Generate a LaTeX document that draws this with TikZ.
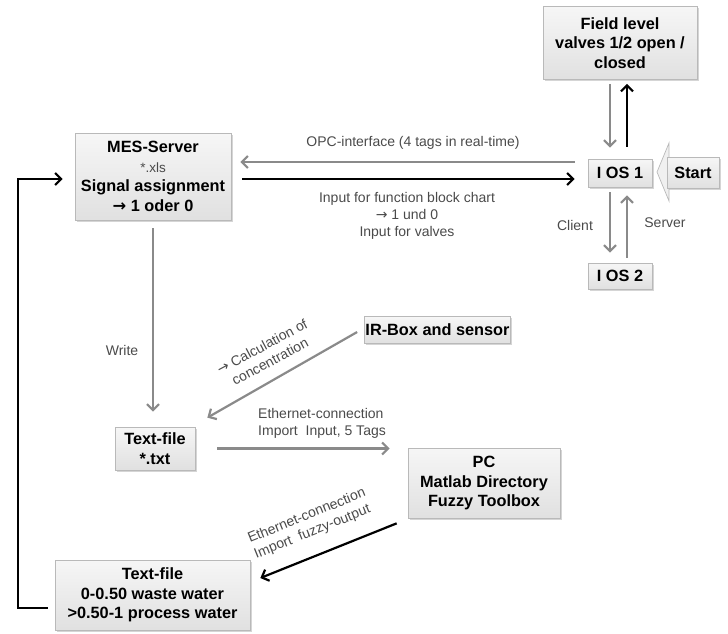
\documentclass[tikz,border=0pt]{standalone}
\usepackage{fontspec}
\setmainfont{Liberation Sans}
\newfontfamily\symfont{DejaVu Sans}
\usetikzlibrary{arrows.meta,shadows,calc}
\definecolor{linegray}{HTML}{8A8A8A}
\definecolor{labelgray}{HTML}{4A4A4A}
\newcommand{\rarr}{{\symfont\textrightarrow}}

\begin{document}
\begin{tikzpicture}[x=1pt,y=-1pt,
  box/.style={draw=gray!55, line width=0.7pt, top color=gray!7, bottom color=gray!24,
    drop shadow={shadow xshift=1.8pt, shadow yshift=-1.8pt, fill=gray!55, opacity=0.6},
    font=\fontsize{16.3}{19.5}\selectfont\bfseries, align=center, inner sep=1pt},
  lbl/.style={text=labelgray, font=\fontsize{14}{17}\selectfont, inner sep=1pt},
  garrow/.style={draw=linegray, line width=2.2pt, -{Straight Barb[length=6pt,width=12pt]}},
  barrow/.style={draw=black, line width=2.2pt, -{Straight Barb[length=6pt,width=12pt]}}]

\useasboundingbox (0,0) rectangle (728,633);

% boxes
\node[box, minimum width=154pt, minimum height=73pt] (field) at (620,43)
  {Field level\\valves 1/2 open /\\closed};
\node[box, minimum width=156pt, minimum height=87pt] (mes) at (153,176.5)
  {MES-Server\\{\mdseries\fontsize{13.5}{19.5}\selectfont\color{labelgray}*.xls}\\Signal assignment\\\rarr\ 1 oder 0};
\node[box, minimum width=64pt, minimum height=28pt] (ios1) at (620,173) {I OS 1};
\node[box, minimum width=64pt, minimum height=26pt] (ios2) at (620,276) {I OS 2};

% hollow arrowhead feeding the start signal into I OS 1
\filldraw[draw=gray!55, fill=gray!12, line width=0.7pt]
  (657,172) -- (669,143) -- (669,201) -- cycle;
\node[box, minimum width=52pt, minimum height=31pt] (start) at (693,172.5) {Start};

\node[box, minimum width=141pt, minimum height=27pt] (ir) at (437.5,330) {IR-Box and sensor};
\node[box, minimum width=80pt, minimum height=43pt] (txt) at (155,448.5) {Text-file\\*.txt};
\node[box, minimum width=152pt, minimum height=70pt] (pc) at (484,483)
  {PC\\Matlab Directory\\Fuzzy Toolbox};
\node[box, minimum width=195pt, minimum height=70pt] (txtout) at (152.5,595)
  {Text-file\\0-0.50 waste water\\>0.50-1 process water};

% field level <-> I OS 1
\draw[garrow] ($(field.south)+(-10,4)$) -- ($(ios1.north)+(-10,-11)$);
\draw[barrow] ($(ios1.north)+(7,-12)$) -- ($(field.south)+(7,4)$);

% I OS 1 <-> I OS 2
\draw[garrow] ($(ios1.south)+(-10,5)$) -- ($(ios2.north)+(-10,-10)$);
\draw[garrow] ($(ios2.north)+(7,-5)$) -- ($(ios1.south)+(7,8)$);
\node[lbl] (client) at (575,225) {Client};
\node[lbl] (server) at (665,223) {Server};

% OPC link between MES server and I OS 1
\draw[garrow] ($(ios1.west)+(-13,-11)$) -- ($(mes.east)+(9,-14.5)$);
\draw[barrow] ($(mes.east)+(11,2.5)$) -- ($(ios1.west)+(-13,6)$);
\node[lbl] (opc) at (413,143) {OPC-interface (4 tags in real-time)};
\node[lbl, align=center] (fbc) at (407,216)
  {Input for function block chart\\\rarr\ 1 und 0\\Input for valves};

% MES server writes the text file
\draw[garrow] ($(mes.south)+(0,8)$) -- ($(txt.north)+(-2,-15)$);
\node[lbl] (write) at (122,350) {Write};

% IR box feeds the text file
\draw[garrow] ($(ir.west)+(-7,2)$) -- ($(txt.north east)+(12,-9)$);
\node[lbl, align=center, rotate=28] (calc) at (266,354)
  {\rarr\ Calculation of\\concentration};

% text file to PC
\draw[garrow] ($(txt.east)+(22,0)$) -- ($(pc.west |- txt.east)+(-18,0)$);
\node[lbl, align=left, anchor=west] (eth1) at (257,423)
  {Ethernet-connection\\Import\ \ Input, 5 Tags};

% PC writes the fuzzy output file
\draw[barrow] ($(pc.south west)+(-11,5)$) -- ($(txtout.east)+(10,-17)$);
\node[lbl, align=left, rotate=22] (eth2) at (310,524)
  {Ethernet-connection\\Import\ \ fuzzy-output};

% feedback loop to the MES server
\coordinate (loopA) at (18,608);
\draw[barrow] ($(txtout.west)+(-7,13)$) -- (loopA) |- ($(mes.west)+(-12,2.5)$);
\end{tikzpicture}
\end{document}
